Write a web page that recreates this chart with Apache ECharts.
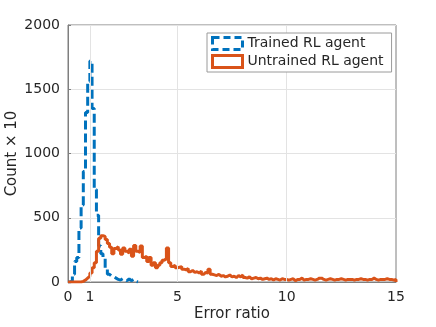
<!DOCTYPE html>
<html>
<head>
<meta charset="utf-8">
<title>Error ratio histogram</title>
<script src="https://cdn.jsdelivr.net/npm/echarts@6/dist/echarts.min.js"></script>
<style>
  html, body { margin: 0; padding: 0; background: #fff; }
  #chart { width: 436px; height: 327px; }
</style>
</head>
<body>
<div id="chart"></div>
<script>
// bin width for both histograms (error ratio)
var binWidth = 0.1;

// Trained RL agent, bins starting at 0.0
var trainedCounts = [
  0, 10, 60, 160, 190, 420, 600, 860, 1320, 1560,
  1720, 1350, 720, 520, 280, 220, 190, 110, 60, 45,
  40, 30, 20, 15, 25, 20, 10, 25, 10, 20,
  5, 0
];

// Untrained RL agent, bins starting at 0.0 up to 15
var untrainedCounts = [
  0, 0, 0, 0, 0, 0, 5, 15, 30, 45,
  70, 110, 150, 240, 340, 360, 355, 330, 300, 270,
  220, 260, 275, 250, 215, 265, 240, 225, 255, 200,
  285, 240, 230, 280, 190, 200, 160, 190, 130, 150,
  110, 130, 150, 170, 180, 265, 150, 120, 130, 110,
  115, 120, 100, 95, 105, 80, 90, 75, 80, 70,
  85, 60, 75, 70, 100, 60, 55, 50, 60, 45,
  50, 40, 45, 55, 40, 45, 35, 50, 40, 55,
  35, 30, 40, 25, 30, 35, 25, 30, 20, 25,
  30, 20, 25, 15, 25, 20, 15, 25, 20, 20,
  15, 20, 25, 10, 20, 20, 30, 15, 20, 20,
  25, 20, 15, 20, 30, 30, 20, 15, 20, 25,
  20, 15, 20, 20, 25, 20, 15, 20, 20, 20,
  15, 20, 20, 25, 20, 20, 15, 20, 20, 30,
  20, 15, 20, 20, 20, 25, 20, 20, 15, 20
];

var xTicks = [0, 1, 5, 10, 15];
var xGridLines = [1, 5, 10];

var blue = '#0072BD';
var orange = '#D95319';
var textColor = '#262626';
var gridColor = '#e3e3e3';

// stairs outline: left edge of each bin, closing at the last right edge
function stairs(counts) {
  var pts = [];
  for (var i = 0; i < counts.length; i++) {
    pts.push([+(i * binWidth).toFixed(2), counts[i]]);
  }
  pts.push([+(counts.length * binWidth).toFixed(2), 0]);
  return pts;
}

var chart = echarts.init(document.getElementById('chart'));

var option = {
  animation: false,
  backgroundColor: '#fff',
  textStyle: { fontFamily: 'DejaVu Sans' },
  grid: {
    left: 68, right: 40, top: 25, bottom: 45,
    outerBoundsMode: 'none',
    containLabel: false,
    show: true,
    borderColor: '#7f7f7f',
    borderWidth: 1,
    backgroundColor: 'transparent'
  },
  legend: {
    z: 20,
    orient: 'vertical',
    left: 207,
    top: 33,
    padding: [3, 8, 3, 4],
    itemGap: 3,
    itemWidth: 30,
    itemHeight: 12,
    borderColor: '#9a9a9a',
    borderWidth: 1,
    backgroundColor: '#fff',
    textStyle: { fontSize: 14, color: textColor },
    data: [
      { name: 'Trained RL agent', icon: 'rect',
        itemStyle: { color: 'transparent', borderColor: blue, borderWidth: 3, borderType: [7, 4] } },
      { name: 'Untrained RL agent', icon: 'rect',
        itemStyle: { color: 'transparent', borderColor: orange, borderWidth: 3 } }
    ]
  },
  xAxis: {
    type: 'value',
    min: 0, max: 15,
    name: 'Error ratio',
    nameLocation: 'middle',
    nameGap: 25,
    nameMoveOverlap: false,
    nameTextStyle: { fontSize: 15, color: textColor },
    axisLine: { show: true, onZero: false, lineStyle: { color: '#7f7f7f' } },
    axisTick: { show: true, inside: true, length: 3, customValues: xTicks, lineStyle: { color: '#7f7f7f' } },
    axisLabel: { customValues: xTicks, fontSize: 14, color: textColor, margin: 8 },
    splitLine: { show: false }
  },
  yAxis: {
    type: 'value',
    min: 0, max: 2000, interval: 500,
    name: 'Count \u00d7 10',
    nameLocation: 'middle',
    nameGap: 48,
    nameMoveOverlap: false,
    nameTextStyle: { fontSize: 15, color: textColor },
    axisLine: { show: true, lineStyle: { color: '#7f7f7f' } },
    axisTick: { show: true, inside: true, length: 3, lineStyle: { color: '#7f7f7f' } },
    axisLabel: {
      fontSize: 14, color: textColor, margin: 8,
      formatter: function (v) { return String(v); }
    },
    splitLine: { show: true, lineStyle: { color: gridColor, width: 1 } }
  },
  series: [
    {
      name: 'grid',
      type: 'line',
      data: [],
      silent: true,
      z: 1,
      markLine: {
        silent: true,
        symbol: ['none', 'none'],
        label: { show: false },
        emphasis: { disabled: true },
        lineStyle: { color: gridColor, width: 1, type: 'solid' },
        data: xGridLines.map(function (v) { return { xAxis: v }; })
      }
    },
    {
      name: 'Trained RL agent',
      type: 'line',
      step: 'end',
      showSymbol: false,
      data: stairs(trainedCounts),
      lineStyle: { color: blue, width: 3, type: [9, 4] },
      itemStyle: { color: blue }
    },
    {
      name: 'Untrained RL agent',
      type: 'line',
      step: 'end',
      showSymbol: false,
      data: stairs(untrainedCounts),
      lineStyle: { color: orange, width: 3 },
      itemStyle: { color: orange }
    }
  ]
};

chart.setOption(option);
</script>
</body>
</html>
